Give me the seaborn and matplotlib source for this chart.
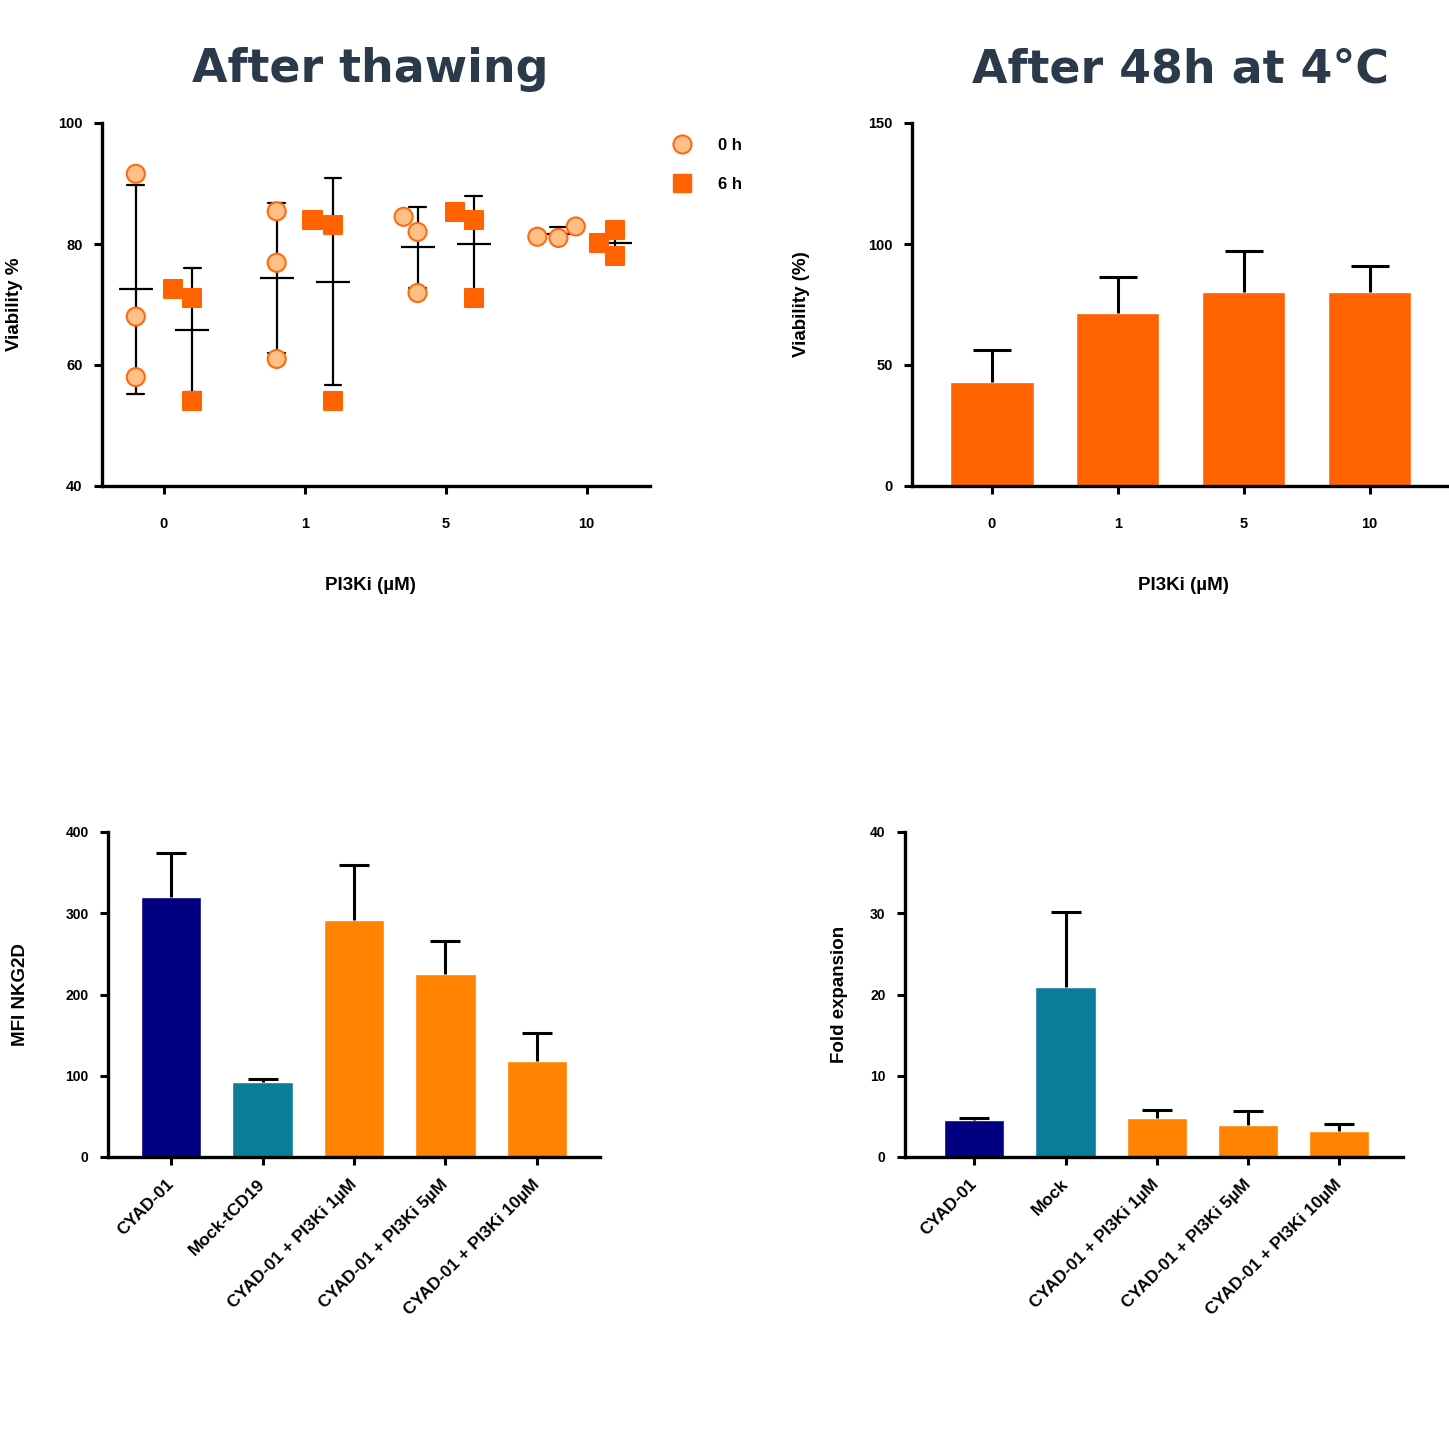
import numpy as np
import pandas as pd
import matplotlib
matplotlib.use('Agg')
import matplotlib.pyplot as plt
from matplotlib.lines import Line2D
import seaborn as sns

# ---- data ----------------------------------------------------------------
doses = ['0', '1', '5', '10']
times = ['0 h', '6 h']

# after thawing, viability %, 3 replicates per dose
viab_0h = {'0': [91.6, 68.0, 58.0], '1': [85.4, 76.9, 61.0],
           '5': [84.5, 82.0, 71.9], '10': [82.9, 81.2, 81.0]}
viab_6h = {'0': [72.5, 71.0, 54.0], '1': [84.0, 83.2, 54.0],
           '5': [85.3, 83.9, 71.0], '10': [82.3, 80.2, 78.0]}

# after 48h at 4C, mean and SD
viab48_mean = [43.0, 71.5, 80.2, 80.2]
viab48_sd = [13.2, 14.9, 16.9, 10.7]

groups_mfi = ['CYAD-01', 'Mock-tCD19', 'CYAD-01 + PI3Ki 1µM',
              'CYAD-01 + PI3Ki 5µM', 'CYAD-01 + PI3Ki 10µM']
mfi_mean = [319.5, 92.5, 291.3, 225.1, 118.3]
mfi_sd = [55.1, 3.3, 68.0, 41.2, 34.5]

groups_fold = ['CYAD-01', 'Mock', 'CYAD-01 + PI3Ki 1µM',
               'CYAD-01 + PI3Ki 5µM', 'CYAD-01 + PI3Ki 10µM']
fold_mean = [4.5, 20.9, 4.84, 3.93, 3.16]
fold_sd = [0.3, 9.3, 0.9, 1.7, 0.95]

bar_colors = ['#000080', '#0A7E98', '#FF8200', '#FF8200', '#FF8200']

rows = []
for t, d in [('0 h', viab_0h), ('6 h', viab_6h)]:
    for k in doses:
        for v in d[k]:
            rows.append({'dose': k, 'time': t, 'viab': v})
df = pd.DataFrame(rows)

# ---- style ---------------------------------------------------------------
sns.set_style('ticks', {'axes.edgecolor': 'black', 'text.color': 'black',
                        'axes.labelcolor': 'black', 'xtick.color': 'black',
                        'ytick.color': 'black'})
plt.rcParams['font.family'] = ['Liberation Sans', 'DejaVu Sans']
plt.rcParams['font.weight'] = 'bold'
plt.rcParams['axes.labelweight'] = 'bold'

fig = plt.figure(figsize=(14.49, 14.31), dpi=100)
W, H = 1449, 1431

def make_ax(l, r, t, b):
    return fig.add_axes([l / W, 1 - b / H, (r - l) / W, (b - t) / H])

def style_ax(ax):
    sns.despine(ax=ax)
    for s in ['left', 'bottom']:
        ax.spines[s].set_linewidth(2.4)
        ax.spines[s].set_color('black')
    ax.tick_params(axis='both', direction='out', length=6, width=2.2,
                   labelsize=10.5, colors='black')
    for lab in ax.get_xticklabels() + ax.get_yticklabels():
        lab.set_fontweight('bold')

def up_errorbar(ax, means, sds, cap):
    n = len(means)
    eb = ax.errorbar(np.arange(n), means, yerr=[np.zeros(n), sds],
                     fmt='none', ecolor='black', elinewidth=2.2,
                     capsize=cap, capthick=2.2, zorder=1)
    # only the upper cap, like mean + SD bars
    eb[1][0].set_visible(False)

title_kw = dict(fontsize=33, fontweight='bold', color='#2B3A4A',
                family='DejaVu Sans', ha='center', va='center')
fig.text(370 / W, 1 - 70 / H, 'After thawing', **title_kw)
fig.text(1181 / W, 1 - 70 / H, 'After 48h at 4°C', **title_kw)

# ---- top left: scatter with mean +- SD -----------------------------------
ax1 = make_ax(102, 650, 123, 486)
sns.pointplot(data=df, x='dose', y='viab', hue='time', order=doses,
              hue_order=times, dodge=0.4, errorbar='sd', capsize=0.12,
              markers='_', linestyles='none', palette=['black', 'black'],
              markersize=25, markeredgewidth=1.6,
              err_kws={'linewidth': 1.6}, legend=False, ax=ax1)
face = {'0 h': '#FFC087', '6 h': '#FF6200'}
edge = {'0 h': '#FF6A10', '6 h': '#FF6200'}
mk = {'0 h': 'o', '6 h': 's'}
for t in times:
    sns.swarmplot(data=df[df['time'] == t], x='dose', y='viab', hue='time',
                  order=doses, hue_order=times, dodge=True, marker=mk[t],
                  size=13, palette={k: face[t] for k in times},
                  edgecolor=edge[t], linewidth=1.5, legend=False,
                  ax=ax1, zorder=4)
ax1.set_xlim(-0.44, 3.45)
ax1.set_ylim(40, 100)
ax1.set_yticks([40, 60, 80, 100])
ax1.set_xlabel('PI3Ki (µM)', fontsize=13.5)
ax1.set_ylabel('Viability %', fontsize=13.5)
ax1.xaxis.set_label_coords(0.489, -0.25)
ax1.yaxis.set_label_coords(-0.145, 0.5)
style_ax(ax1)
ax1.tick_params(axis='x', pad=16)
ax1.tick_params(axis='y', pad=8)
handles = [Line2D([], [], marker='o', ls='none', markersize=13,
                  markerfacecolor=face['0 h'], markeredgecolor=edge['0 h'],
                  markeredgewidth=1.5),
           Line2D([], [], marker='s', ls='none', markersize=13,
                  markerfacecolor=face['6 h'], markeredgecolor=edge['6 h'])]
ax1.legend(handles, times, loc='upper left', bbox_to_anchor=(1.0, 1.0),
           frameon=False, handletextpad=1.2, labelspacing=1.45,
           prop={'weight': 'bold', 'size': 12})

# ---- top right: bars ---------------------------------------------------
ax2 = make_ax(912, 1449, 123, 486)
sns.barplot(x=doses, y=viab48_mean, color='#FF6200', saturation=1,
            width=0.66, ax=ax2)
up_errorbar(ax2, viab48_mean, viab48_sd, 14)
ax2.set_xlim(-0.635, 3.63)
ax2.set_ylim(0, 150)
ax2.set_yticks([0, 50, 100, 150])
ax2.set_xlabel('PI3Ki (µM)', fontsize=13.5)
ax2.set_ylabel('Viability (%)', fontsize=13.5)
ax2.xaxis.set_label_coords(0.505, -0.25)
ax2.yaxis.set_label_coords(-0.19, 0.5)
style_ax(ax2)
ax2.tick_params(axis='x', pad=16)
ax2.tick_params(axis='y', pad=8)

# ---- bottom: bars with rotated labels ------------------------------------
def bottom_bars(ax, cats, means, sds, ylim, yticks, ylabel, xlim, lab_x):
    sns.barplot(x=cats, y=means, hue=cats, palette=bar_colors,
                saturation=1, width=0.66, legend=False, ax=ax)
    up_errorbar(ax, means, sds, 11)
    ax.set_xlim(*xlim)
    ax.set_ylim(*ylim)
    ax.set_yticks(yticks)
    ax.set_xlabel('')
    ax.set_ylabel(ylabel, fontsize=13.5)
    ax.yaxis.set_label_coords(lab_x, 0.5)
    style_ax(ax)
    ax.tick_params(axis='x', pad=12, labelsize=12.5)
    ax.tick_params(axis='y', pad=8, labelsize=10)
    for lab in ax.get_xticklabels():
        lab.set_rotation(45)
        lab.set_ha('right')
        lab.set_va('center')
        lab.set_rotation_mode('anchor')

ax3 = make_ax(108, 600, 832, 1157)
bottom_bars(ax3, groups_mfi, mfi_mean, mfi_sd, (0, 400),
            [0, 100, 200, 300, 400], 'MFI NKG2D', (-0.69, 4.69), -0.16)

ax4 = make_ax(905, 1403, 832, 1157)
bottom_bars(ax4, groups_fold, fold_mean, fold_sd, (0, 40),
            [0, 10, 20, 30, 40], 'Fold expansion', (-0.76, 4.70), -0.115)

fig.savefig('out.png', dpi=100)
